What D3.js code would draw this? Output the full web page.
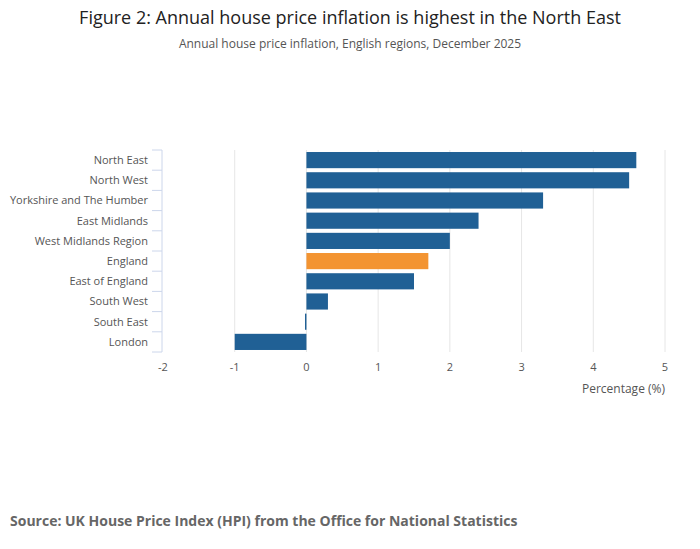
<!DOCTYPE html>
<html><head><meta charset="utf-8">
<script src="https://cdn.jsdelivr.net/npm/d3@7"></script>
<style>body{margin:0;background:#fff;font-family:"Open Sans",sans-serif;}</style>
</head><body>
<svg id="chart" width="700" height="549"></svg>
<script>
const regions = ["North East","North West","Yorkshire and The Humber","East Midlands","West Midlands Region","England","East of England","South West","South East","London"];
const values = [4.6,4.5,3.3,2.4,2.0,1.7,1.5,0.3,-0.02,-1.0];
const xTicks = [-2,-1,0,1,2,3,4,5];

const svg = d3.select("#chart");
const x = d3.scaleLinear().domain([-2,5]).range([163,665]);
const y = d3.scaleBand().domain(regions).range([150,352]).paddingInner(0.2).paddingOuter(0.1);

svg.append("text").attr("x",350).attr("y",24).attr("text-anchor","middle")
  .attr("font-size",18).attr("fill","#222").text("Figure 2: Annual house price inflation is highest in the North East");
svg.append("text").attr("x",350).attr("y",48).attr("text-anchor","middle")
  .attr("font-size",12).attr("fill","#555").text("Annual house price inflation, English regions, December 2025");

// gridlines
svg.selectAll("line.grid").data(xTicks.filter(d => d > -2)).enter().append("line")
  .attr("x1", d => x(d)).attr("x2", d => x(d)).attr("y1",150).attr("y2",352)
  .attr("stroke","#e6e6e6");

svg.selectAll("rect.bar").data(regions).enter().append("rect")
  .attr("x", (d,i) => x(Math.min(0, values[i])))
  .attr("y", d => y(d))
  .attr("width", (d,i) => Math.max(1, Math.abs(x(values[i]) - x(0))))
  .attr("height", y.bandwidth())
  .attr("fill", d => d === "England" ? "#f39431" : "#206095");

// y axis
const yAxis = svg.append("g").attr("transform","translate(162,0)");
yAxis.append("line").attr("x1",0).attr("x2",0).attr("y1",150).attr("y2",352).attr("stroke","#ccd6eb");
const step = y.step();
d3.range(11).forEach(i => {
  const yy = 150 + i * (202 / 10);
  yAxis.append("line").attr("x1",-10).attr("x2",0).attr("y1",yy).attr("y2",yy).attr("stroke","#ccd6eb");
});
yAxis.selectAll("text").data(regions).enter().append("text")
  .attr("x",-14).attr("y", d => y(d) + y.bandwidth()/2).attr("dy","0.35em")
  .attr("text-anchor","end").attr("font-size",11).attr("fill","#555").text(d => d);

// x axis labels
svg.selectAll("text.xt").data(xTicks).enter().append("text")
  .attr("x", d => x(d)).attr("y",371).attr("text-anchor","middle")
  .attr("font-size",11).attr("fill","#555").text(d => d);
svg.append("text").attr("x",665).attr("y",393).attr("text-anchor","end")
  .attr("font-size",12).attr("fill","#555").text("Percentage (%)");

svg.append("text").attr("x",10).attr("y",526).attr("font-size",14).attr("font-weight","bold")
  .attr("fill","#666").text("Source: UK House Price Index (HPI) from the Office for National Statistics");
</script>
</body></html>
